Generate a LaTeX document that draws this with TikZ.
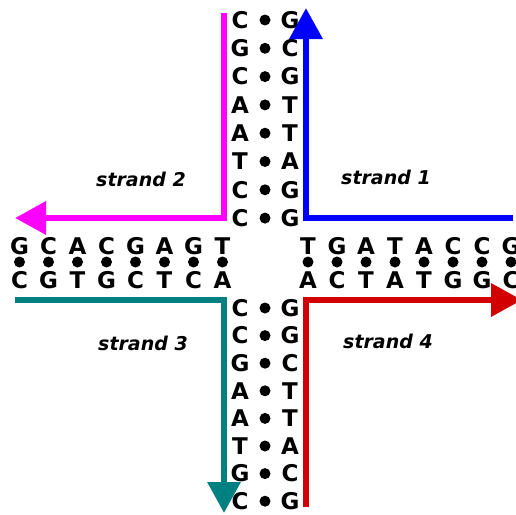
\documentclass[tikz,border=0pt]{standalone}
\usepackage{fontspec}
\setmainfont{DejaVu Sans}
\usetikzlibrary{arrows.meta}

\definecolor{strandmagenta}{RGB}{255,0,255}
\definecolor{strandblue}{RGB}{0,0,255}
\definecolor{strandteal}{RGB}{0,128,128}
\definecolor{strandred}{RGB}{210,0,0}

\begin{document}
\begin{tikzpicture}[x=1pt,y=-1pt,
    base/.style={font=\bfseries\fontsize{23}{23}\selectfont,inner sep=0pt},
    bond/.style={circle,fill=black,inner sep=0pt,minimum size=11pt},
    strand/.style={line width=6.5pt,-{Triangle[length=31pt,width=32pt]}},
    lbl/.style={font=\bfseries\itshape\fontsize{19}{19}\selectfont}]
  \useasboundingbox (0,0) rectangle (516,514);
  % upper arm
  \foreach \l/\r [count=\i] in {C/G,G/C,C/G,A/T,A/T,T/A,C/G,C/G} {
    \node[base] (ul\i) at (240,{20+28.3*(\i-1)}) {\l};
    \node[bond] (ud\i) at (265,{20+28.3*(\i-1)}) {};
    \node[base] (ur\i) at (290,{20+28.3*(\i-1)}) {\r};
  }
  % lower arm
  \foreach \l/\r [count=\i] in {C/G,C/G,G/C,A/T,A/T,T/A,G/C,C/G} {
    \node[base] (bl\i) at (240,{308+27.6*(\i-1)}) {\l};
    \node[bond] (bd\i) at (265,{308+27.6*(\i-1)}) {};
    \node[base] (br\i) at (290,{308+27.6*(\i-1)}) {\r};
  }
  % left arm
  \foreach \t/\b [count=\i] in {G/C,C/G,A/T,C/G,G/C,A/T,G/C,T/A} {
    \node[base] (lt\i) at ({19.5+29*(\i-1)},246) {\t};
    \node[bond] (ld\i) at ({19.5+29*(\i-1)},262) {};
    \node[base] (lb\i) at ({19.5+29*(\i-1)},280) {\b};
  }
  % right arm
  \foreach \t/\b [count=\i] in {T/A,G/C,A/T,T/A,A/T,C/G,C/G,G/C} {
    \node[base] (rt\i) at ({308+29*(\i-1)},246) {\t};
    \node[bond] (rd\i) at ({308+29*(\i-1)},262) {};
    \node[base] (rb\i) at ({308+29*(\i-1)},280) {\b};
  }
  % strands
  \coordinate (s1a) at (513,218);
  \coordinate (s1b) at (306,218);
  \coordinate (s1c) at (306,8);
  \coordinate (s2a) at (224,13);
  \coordinate (s2b) at (224,218);
  \coordinate (s2c) at (15,218);
  \coordinate (s3a) at (15,300);
  \coordinate (s3b) at (224,300);
  \coordinate (s3c) at (224,513);
  \coordinate (s4a) at (306,507);
  \coordinate (s4b) at (306,300);
  \coordinate (s4c) at (522,300);
  \draw[strand,strandblue] (s1a) -- (s1b) -- (s1c);
  \draw[strand,strandmagenta] (s2a) -- (s2b) -- (s2c);
  \draw[strand,strandteal] (s3a) -- (s3b) -- (s3c);
  \draw[strand,strandred] (s4a) -- (s4b) -- (s4c);
  \node[lbl] (n1) at (386,177) {strand 1};
  \node[lbl] (n2) at (141,179) {strand 2};
  \node[lbl] (n3) at (143,343) {strand 3};
  \node[lbl] (n4) at (388,341) {strand 4};
\end{tikzpicture}
\end{document}
